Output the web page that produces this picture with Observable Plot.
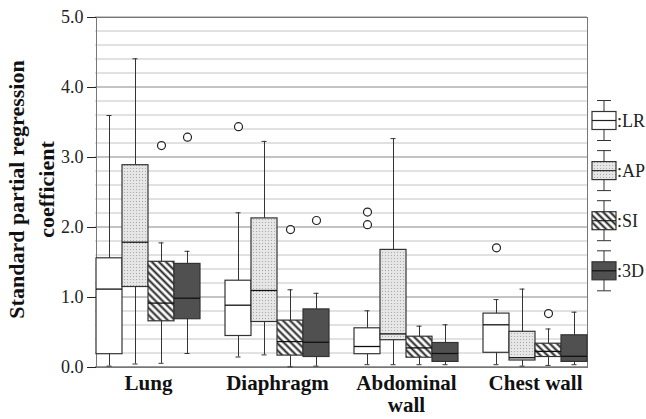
<!DOCTYPE html>
<html><head><meta charset="utf-8">
<script src="https://cdn.jsdelivr.net/npm/d3@7"></script>
<script src="https://cdn.jsdelivr.net/npm/@observablehq/plot@0.6"></script>
<style>
body{margin:0;background:#fff;}
#chart svg{font-family:"Liberation Serif","Times New Roman",serif;}
</style></head><body><div id="chart"></div>
<script>
// Categories
const groups = ["Lung", "Diaphragm", "Abdominal wall", "Chest wall"];
const groupLabels = ["Lung", "Diaphragm", "Abdominal\nwall", "Chest wall"];
const series = ["LR", "AP", "SI", "3D"];
// Box statistics per group, per series: [low whisker, Q1, median, Q3, high whisker]
const lungStats      = [[0.02,0.19,1.12,1.56,3.60],[0.05,1.15,1.79,2.89,4.41],[0.06,0.66,0.92,1.51,1.78],[0.20,0.69,0.99,1.48,1.66]];
const diaphragmStats = [[0.15,0.45,0.89,1.24,2.21],[0.18,0.65,1.10,2.13,3.23],[0.01,0.17,0.37,0.67,1.11],[0.02,0.15,0.36,0.83,1.06]];
const abdominalStats = [[0.04,0.19,0.30,0.56,0.81],[0.04,0.39,0.48,1.68,3.27],[0.04,0.14,0.28,0.44,0.59],[0.04,0.08,0.20,0.35,0.61]];
const chestStats     = [[0.04,0.21,0.61,0.77,0.97],[0.02,0.10,0.14,0.51,1.12],[0.03,0.15,0.23,0.34,0.55],[0.04,0.08,0.16,0.46,0.79]];
// Outliers
const outlierGroups = ["Lung","Lung","Diaphragm","Diaphragm","Diaphragm","Abdominal wall","Abdominal wall","Chest wall","Chest wall"];
const outlierSeries = ["SI","3D","LR","SI","3D","LR","LR","LR","SI"];
const outlierValues = [3.17, 3.29, 3.44, 1.97, 2.10, 2.22, 2.04, 1.71, 0.77];
// Tick values
const majorTicks = [0, 1, 2, 3, 4, 5];
const minorTicks = [0.2,0.4,0.6,0.8,1.2,1.4,1.6,1.8,2.2,2.4,2.6,2.8,3.2,3.4,3.6,3.8,4.2,4.4,4.6,4.8];
const yLabel = "Standard partial regression\ncoefficient";
const seriesFills = ["white", "url(#stipple)", "url(#hatch)", "#505050"];
const seriesMedians = ["#222", "#333", "#222", "#111"];

const allStats = [lungStats, diaphragmStats, abdominalStats, chestStats];
const rows = [];
groups.forEach((g, i) => series.forEach((s, j) => {
  const [lo, q1, med, q3, hi] = allStats[i][j];
  rows.push({group: g, series: s, lo, q1, med, q3, hi});
}));
const outs = outlierValues.map((v, k) => ({group: outlierGroups[k], series: outlierSeries[k], value: v}));

const plot = Plot.plot({
  width: 646, height: 419,
  marginLeft: 95, marginRight: 59, marginTop: 17, marginBottom: 52,
  style: {fontFamily: "Liberation Serif, Times New Roman, serif", fontSize: "18px", color: "#222", background: "white"},
  fx: {domain: groups, paddingInner: 0.194, paddingOuter: 0, axis: null, label: null},
  x: {domain: series, padding: 0, axis: null},
  y: {domain: [0, 5], ticks: majorTicks, tickFormat: d3.format(".1f"), tickSize: 9, tickPadding: 4, label: null, line: true},
  color: {type: "ordinal", domain: series, range: seriesFills},
  marks: [
    Plot.frame({facet: "super", stroke: "#777"}),
    Plot.ruleX(rows, {fx: "group", x: "series", y1: "lo", y2: "hi", stroke: "#333", strokeWidth: 1}),
    Plot.barY(rows, {fx: "group", x: "series", y1: "q1", y2: "q3", fill: "series", stroke: "#333", strokeWidth: 1.2}),
    Plot.tickY(rows, {fx: "group", x: "series", y: "med", stroke: "#111", strokeWidth: 1.3}),
    Plot.tickY(rows, {fx: "group", x: "series", y: "lo", insetLeft: 10.5, insetRight: 10.5, stroke: "#333"}),
    Plot.tickY(rows, {fx: "group", x: "series", y: "hi", insetLeft: 10.5, insetRight: 10.5, stroke: "#333"}),
    Plot.dot(outs, {fx: "group", x: "series", y: "value", r: 4, stroke: "#222", fill: "white", strokeWidth: 1.2}),
    Plot.text(groups, {fx: d => d, text: (d, i) => groupLabels[i], frameAnchor: "bottom", lineAnchor: "top", dy: 6, fontSize: 21, fontWeight: "bold", lineHeight: 1.08, fill: "#111"}),
    Plot.text([yLabel], {facet: "super", frameAnchor: "left", rotate: -90, textAnchor: "middle", lineAnchor: "middle", lineHeight: 1.34, dx: -66.8, dy: -3, fontSize: 22, fontWeight: "bold", fill: "#111"})
  ]
});

const svg = d3.select(plot);
const defs = svg.insert("defs", ":first-child");
const st = defs.append("pattern").attr("id", "stipple").attr("patternUnits", "userSpaceOnUse").attr("width", 3).attr("height", 3);
st.append("rect").attr("width", 3).attr("height", 3).attr("fill", "#e6e6e6");
st.append("rect").attr("width", 1).attr("height", 1).attr("fill", "#aaa");
const ht = defs.append("pattern").attr("id", "hatch").attr("patternUnits", "userSpaceOnUse").attr("width", 5).attr("height", 5).attr("patternTransform", "rotate(-45)");
ht.append("rect").attr("width", 5).attr("height", 5).attr("fill", "white");
ht.append("line").attr("x1", 1.5).attr("x2", 1.5).attr("y1", 0).attr("y2", 5).attr("stroke", "#222").attr("stroke-width", 2);

// Horizontal gridlines across the whole plot area, placed with Plot's own y scale
const yScale = plot.scale("y");
const x0 = 95, x1 = 646 - 59;
const grid = svg.insert("g", "g").attr("class", "grid");
minorTicks.forEach(v => grid.append("line").attr("x1", x0).attr("x2", x1).attr("y1", yScale.apply(v)).attr("y2", yScale.apply(v)).attr("stroke", "#c4c4c4"));
majorTicks.forEach(v => grid.append("line").attr("x1", x0).attr("x2", x1).attr("y1", yScale.apply(v)).attr("y2", yScale.apply(v)).attr("stroke", v === 0 ? "#333" : "#888"));

// Legend
const lg = svg.append("g").attr("class", "legend").attr("text-anchor", "start");
series.forEach((s, i) => {
  const cy = 120.5 + 50.1 * i;
  const g = lg.append("g");
  g.append("line").attr("x1", 604).attr("x2", 604).attr("y1", cy - 20).attr("y2", cy + 20).attr("stroke", "#333");
  g.append("line").attr("x1", 597).attr("x2", 611).attr("y1", cy - 20).attr("y2", cy - 20).attr("stroke", "#333");
  g.append("line").attr("x1", 597).attr("x2", 611).attr("y1", cy + 20).attr("y2", cy + 20).attr("stroke", "#333");
  g.append("rect").attr("x", 592).attr("y", cy - 9).attr("width", 24).attr("height", 18).attr("fill", seriesFills[i]).attr("stroke", "#333").attr("stroke-width", 1.2);
  g.append("line").attr("x1", 592).attr("x2", 616).attr("y1", cy).attr("y2", cy).attr("stroke", seriesMedians[i]).attr("stroke-width", 1.2);
  g.append("text").attr("x", 617).attr("y", cy + 6).attr("text-anchor", "start").attr("font-size", 18).attr("fill", "#222").text(":" + s);
});

document.getElementById("chart").appendChild(plot);
</script></body></html>
